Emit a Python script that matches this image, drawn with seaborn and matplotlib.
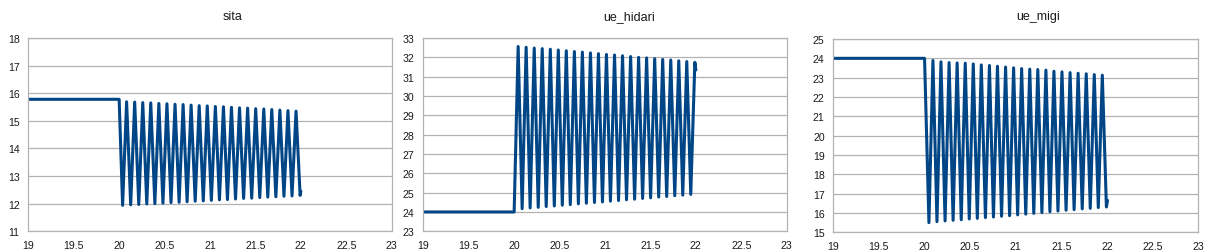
import numpy as np
import pandas as pd
import matplotlib
matplotlib.use("Agg")
import matplotlib.pyplot as plt
from matplotlib.ticker import FuncFormatter, MultipleLocator
import seaborn as sns

# ---------------- data ----------------
titles = ["sita", "ue_hidari", "ue_migi"]

# sita
sita_start_t = [19.0, 20.0]
sita_start_v = [15.78, 15.78]
sita_trough_t = [20.038, 20.127, 20.216, 20.304, 20.393, 20.482, 20.571, 20.660, 20.748, 20.837,
                 20.926, 21.015, 21.104, 21.192, 21.281, 21.370, 21.459, 21.548, 21.636, 21.725,
                 21.814, 21.903, 21.992]
sita_trough_v = [11.94, 11.96, 11.97, 11.99, 12.00, 12.02, 12.04, 12.05, 12.07, 12.09,
                 12.10, 12.12, 12.14, 12.15, 12.17, 12.19, 12.20, 12.22, 12.24, 12.25,
                 12.27, 12.28, 12.30]
sita_peak_t = [20.082, 20.171, 20.260, 20.348, 20.437, 20.526, 20.615, 20.704, 20.792, 20.881,
               20.970, 21.059, 21.148, 21.236, 21.325, 21.414, 21.503, 21.592, 21.680, 21.769,
               21.858, 21.947]
sita_peak_v = [15.69, 15.68, 15.66, 15.65, 15.63, 15.62, 15.60, 15.59, 15.57, 15.55,
               15.54, 15.52, 15.51, 15.49, 15.47, 15.46, 15.44, 15.43, 15.41, 15.39,
               15.37, 15.35]
sita_end_t = [22.0]
sita_end_v = [12.45]

# ue_hidari
hidari_start_t = [19.0, 20.0]
hidari_start_v = [24.0, 24.0]
hidari_peak_t = [20.044, 20.132, 20.221, 20.309, 20.398, 20.486, 20.574, 20.663, 20.751, 20.840,
                 20.928, 21.016, 21.105, 21.193, 21.282, 21.370, 21.458, 21.547, 21.635, 21.724,
                 21.812, 21.900, 21.989]
hidari_peak_v = [32.56, 32.52, 32.48, 32.45, 32.42, 32.38, 32.34, 32.30, 32.27, 32.23,
                 32.19, 32.15, 32.12, 32.08, 32.04, 32.00, 31.97, 31.93, 31.89, 31.86,
                 31.82, 31.78, 31.74]
hidari_trough_t = [20.088, 20.176, 20.265, 20.353, 20.442, 20.530, 20.618, 20.707, 20.795, 20.884,
                   20.972, 21.060, 21.149, 21.237, 21.326, 21.414, 21.502, 21.591, 21.679, 21.768,
                   21.856, 21.944]
hidari_trough_v = [24.17, 24.21, 24.24, 24.28, 24.31, 24.35, 24.38, 24.42, 24.45, 24.49,
                   24.52, 24.56, 24.59, 24.63, 24.66, 24.70, 24.73, 24.77, 24.80, 24.84,
                   24.87, 24.91]
hidari_end_t = [22.0]
hidari_end_v = [31.35]

# ue_migi
migi_start_t = [19.0, 20.0]
migi_start_v = [24.0, 24.0]
migi_trough_t = [20.048, 20.136, 20.225, 20.313, 20.402, 20.490, 20.578, 20.667, 20.755, 20.844,
                 20.932, 21.020, 21.109, 21.197, 21.286, 21.374, 21.462, 21.551, 21.639, 21.728,
                 21.816, 21.904, 21.993]
migi_trough_v = [15.50, 15.55, 15.59, 15.62, 15.65, 15.69, 15.72, 15.76, 15.79, 15.83,
                 15.86, 15.90, 15.94, 15.98, 16.02, 16.06, 16.10, 16.14, 16.17, 16.21,
                 16.24, 16.28, 16.31]
migi_peak_t = [20.092, 20.180, 20.269, 20.357, 20.446, 20.534, 20.622, 20.711, 20.799, 20.888,
               20.976, 21.064, 21.153, 21.241, 21.330, 21.418, 21.506, 21.595, 21.683, 21.772,
               21.860, 21.948]
migi_peak_v = [23.89, 23.82, 23.78, 23.76, 23.75, 23.71, 23.66, 23.63, 23.59, 23.55,
               23.51, 23.47, 23.44, 23.42, 23.39, 23.33, 23.30, 23.26, 23.23, 23.20,
               23.16, 23.13]
migi_end_t = [22.005]
migi_end_v = [16.65]

y_ranges = [(11, 18), (23, 33), (15, 25)]
x_range = (19, 23)


def build(parts):
    t = []
    v = []
    for pt, pv in parts:
        t += list(pt)
        v += list(pv)
    df = pd.DataFrame({"t": t, "v": v}).sort_values("t").reset_index(drop=True)
    return df


frames = [
    build([(sita_start_t, sita_start_v), (sita_trough_t, sita_trough_v),
           (sita_peak_t, sita_peak_v), (sita_end_t, sita_end_v)]),
    build([(hidari_start_t, hidari_start_v), (hidari_peak_t, hidari_peak_v),
           (hidari_trough_t, hidari_trough_v), (hidari_end_t, hidari_end_v)]),
    build([(migi_start_t, migi_start_v), (migi_trough_t, migi_trough_v),
           (migi_peak_t, migi_peak_v), (migi_end_t, migi_end_v)]),
]

# ---------------- drawing ----------------
sns.set_style("white")
plt.rcParams["font.family"] = ["Liberation Sans", "DejaVu Sans"]

W, H = 1210, 253
fig = plt.figure(figsize=(W / 100, H / 100), dpi=100)

# axes boxes in pixels: (left, right, top, bottom)
boxes = [(28.3, 391.7, 39.0, 232.3),
         (423.3, 786.7, 39.0, 232.3),
         (833.3, 1198.3, 40.0, 233.3)]
title_x = [233, 629, 1038]

grid_c = "#b3b3b3"
line_c = "#004586"
text_c = "#1a1a1a"

for i, (df, (l, r, t, b)) in enumerate(zip(frames, boxes)):
    ax = fig.add_axes([l / W, 1 - b / H, (r - l) / W, (b - t) / H])
    sns.lineplot(data=df, x="t", y="v", ax=ax, sort=False, estimator=None,
                 color=line_c, linewidth=2.2, solid_joinstyle="round",
                 solid_capstyle="round")
    ax.set_xlim(*x_range)
    ax.set_ylim(*y_ranges[i])
    ax.xaxis.set_major_locator(MultipleLocator(0.5))
    ax.yaxis.set_major_locator(MultipleLocator(1))
    ax.xaxis.set_major_formatter(FuncFormatter(lambda v, p: f"{v:g}"))
    ax.yaxis.set_major_formatter(FuncFormatter(lambda v, p: f"{v:g}"))
    ax.set_xlabel("")
    ax.set_ylabel("")
    ax.grid(axis="y", color=grid_c, linewidth=0.9)
    ax.grid(axis="x", visible=False)
    ax.set_axisbelow(True)
    for s in ax.spines.values():
        s.set_visible(True)
        s.set_color(grid_c)
        s.set_linewidth(0.9)
    ax.tick_params(axis="both", which="major", length=2.8, width=0.8, color=grid_c,
                   labelsize=7.6, labelcolor=text_c, direction="out")
    ax.tick_params(axis="y", pad=3.4)
    ax.tick_params(axis="x", pad=3.6)
    fig.text(title_x[i] / W, 1 - 17 / H, titles[i], ha="center", va="center",
             fontsize=9.0, color=text_c)

fig.savefig("out.png", dpi=100, facecolor="white")
